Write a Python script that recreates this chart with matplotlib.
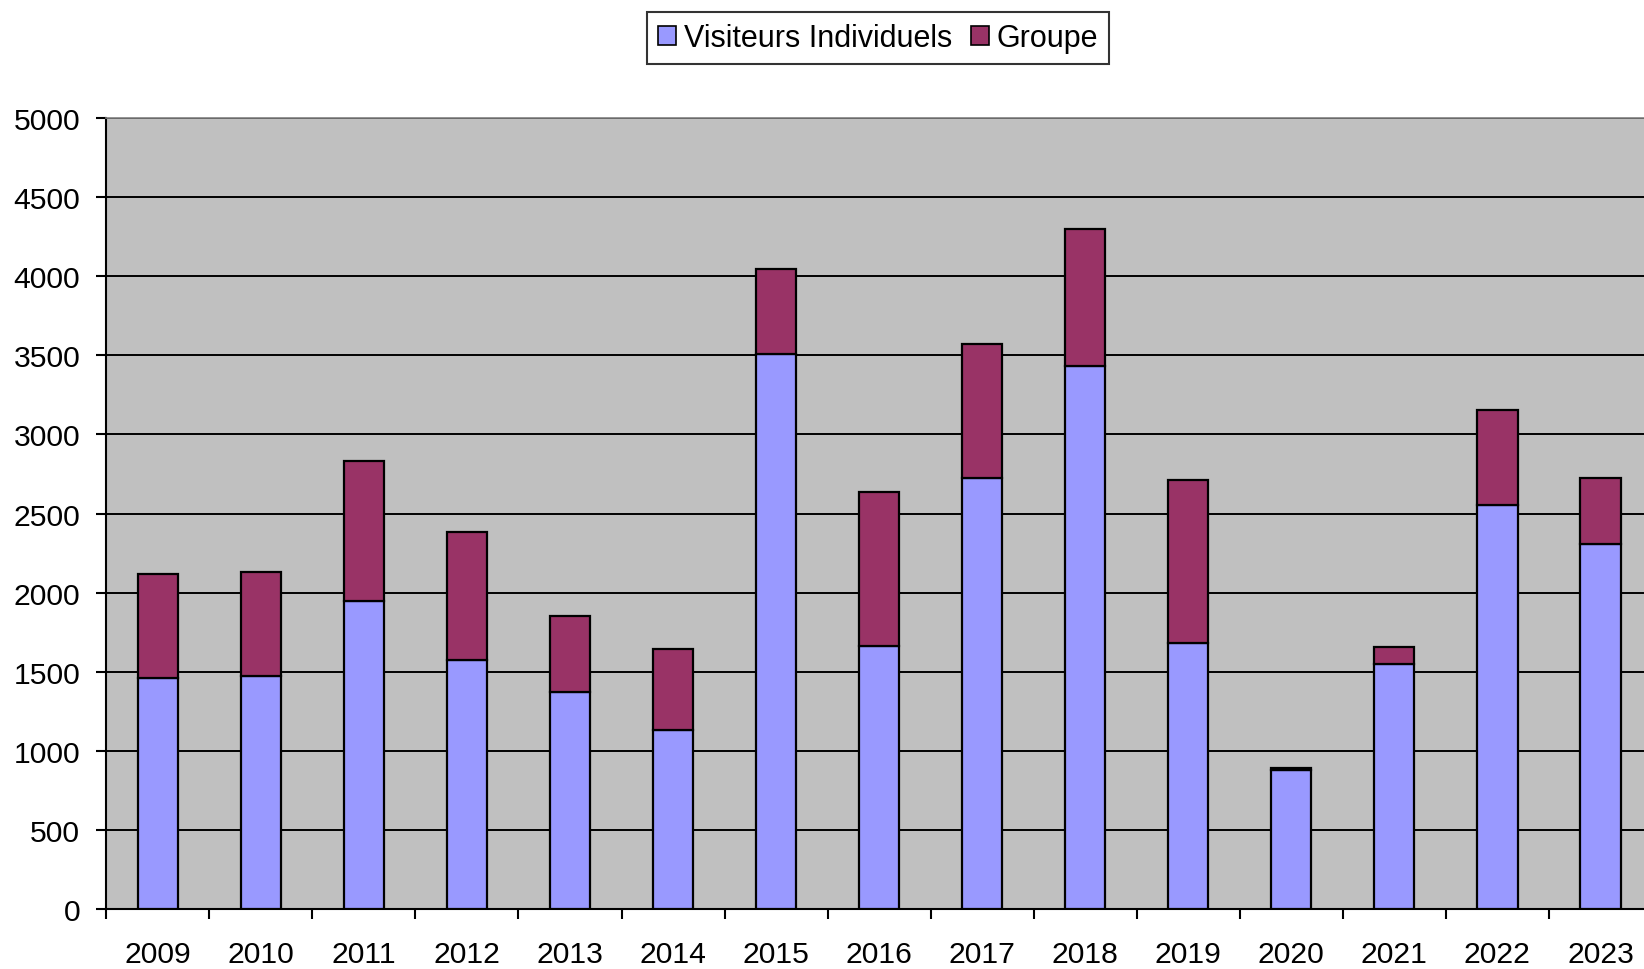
import matplotlib
matplotlib.use("Agg")
import matplotlib.pyplot as plt
import numpy as np
from matplotlib.patches import Patch

years = ["2009", "2010", "2011", "2012", "2013", "2014", "2015", "2016",
         "2017", "2018", "2019", "2020", "2021", "2022", "2023"]
individuels = [1460, 1473, 1947, 1576, 1370, 1134, 3506, 1664,
               2722, 3432, 1681, 880, 1549, 2556, 2305]
groupe = [655, 659, 883, 809, 482, 509, 539, 972,
          847, 866, 1033, 10, 109, 598, 419]
y_ticks = [0, 500, 1000, 1500, 2000, 2500, 3000, 3500, 4000, 4500, 5000]

c_ind = "#9999FF"
c_grp = "#993366"
bg = "#C0C0C0"

plt.rcParams["font.family"] = ["Liberation Sans", "DejaVu Sans"]
FS = 21.7

W, H = 1644, 970
fig = plt.figure(figsize=(W / 100, H / 100), dpi=100)
fig.patch.set_facecolor("white")

left_px, right_px = 106.25, 1652.0
bottom_px, top_px = 910.0, 119.0
ax = fig.add_axes([left_px / W, (H - bottom_px) / H,
                   (right_px - left_px) / W, (bottom_px - top_px) / H])
ax.set_facecolor(bg)

x = np.arange(len(years))
ax.bar(x, individuels, width=0.39, color=c_ind, edgecolor="black",
       linewidth=1.6, zorder=3)
ax.bar(x, groupe, width=0.39, bottom=individuels, color=c_grp,
       edgecolor="black", linewidth=1.6, zorder=3)

ax.set_xlim(-0.5, len(years) - 0.5)
ax.set_ylim(0, 5000)
ax.set_yticks(y_ticks)
ax.set_yticklabels([str(v) for v in y_ticks], fontsize=FS)
ax.yaxis.grid(True, color="black", linewidth=1.4, zorder=1)
ax.set_axisbelow(True)

# x: ticks at category boundaries, labels at centers
ax.set_xticks(np.arange(len(years) + 1) - 0.5)
ax.set_xticklabels([])
ax.set_xticks(x, minor=True)
ax.set_xticklabels(years, minor=True, fontsize=FS)
ax.tick_params(axis="x", which="major", direction="out", length=7.2,
               width=1.5, color="black")
ax.tick_params(axis="x", which="minor", length=0, pad=22.5)
ax.tick_params(axis="y", direction="out", length=7.2, width=1.5,
               color="black", pad=11.5)

for s in ["left", "bottom"]:
    ax.spines[s].set_color("black")
    ax.spines[s].set_linewidth(1.5)
ax.spines["top"].set_color("#808080")
ax.spines["top"].set_linewidth(1.2)
ax.spines["right"].set_visible(False)

handles = [Patch(facecolor=c_ind, edgecolor="black", linewidth=1.2),
           Patch(facecolor=c_grp, edgecolor="black", linewidth=1.2)]
leg = fig.legend(handles, ["Visiteurs Individuels", "Groupe"],
                 loc="center", bbox_to_anchor=(878 / W, 1 - 39 / H),
                 ncol=2, fontsize=22, frameon=True, fancybox=False,
                 edgecolor="black", handlelength=0.6, handleheight=0.6,
                 handletextpad=0.25, columnspacing=0.6, borderpad=0.35,
                 borderaxespad=0)
leg.get_frame().set_linewidth(1.5)

fig.savefig("out.png", dpi=100)
